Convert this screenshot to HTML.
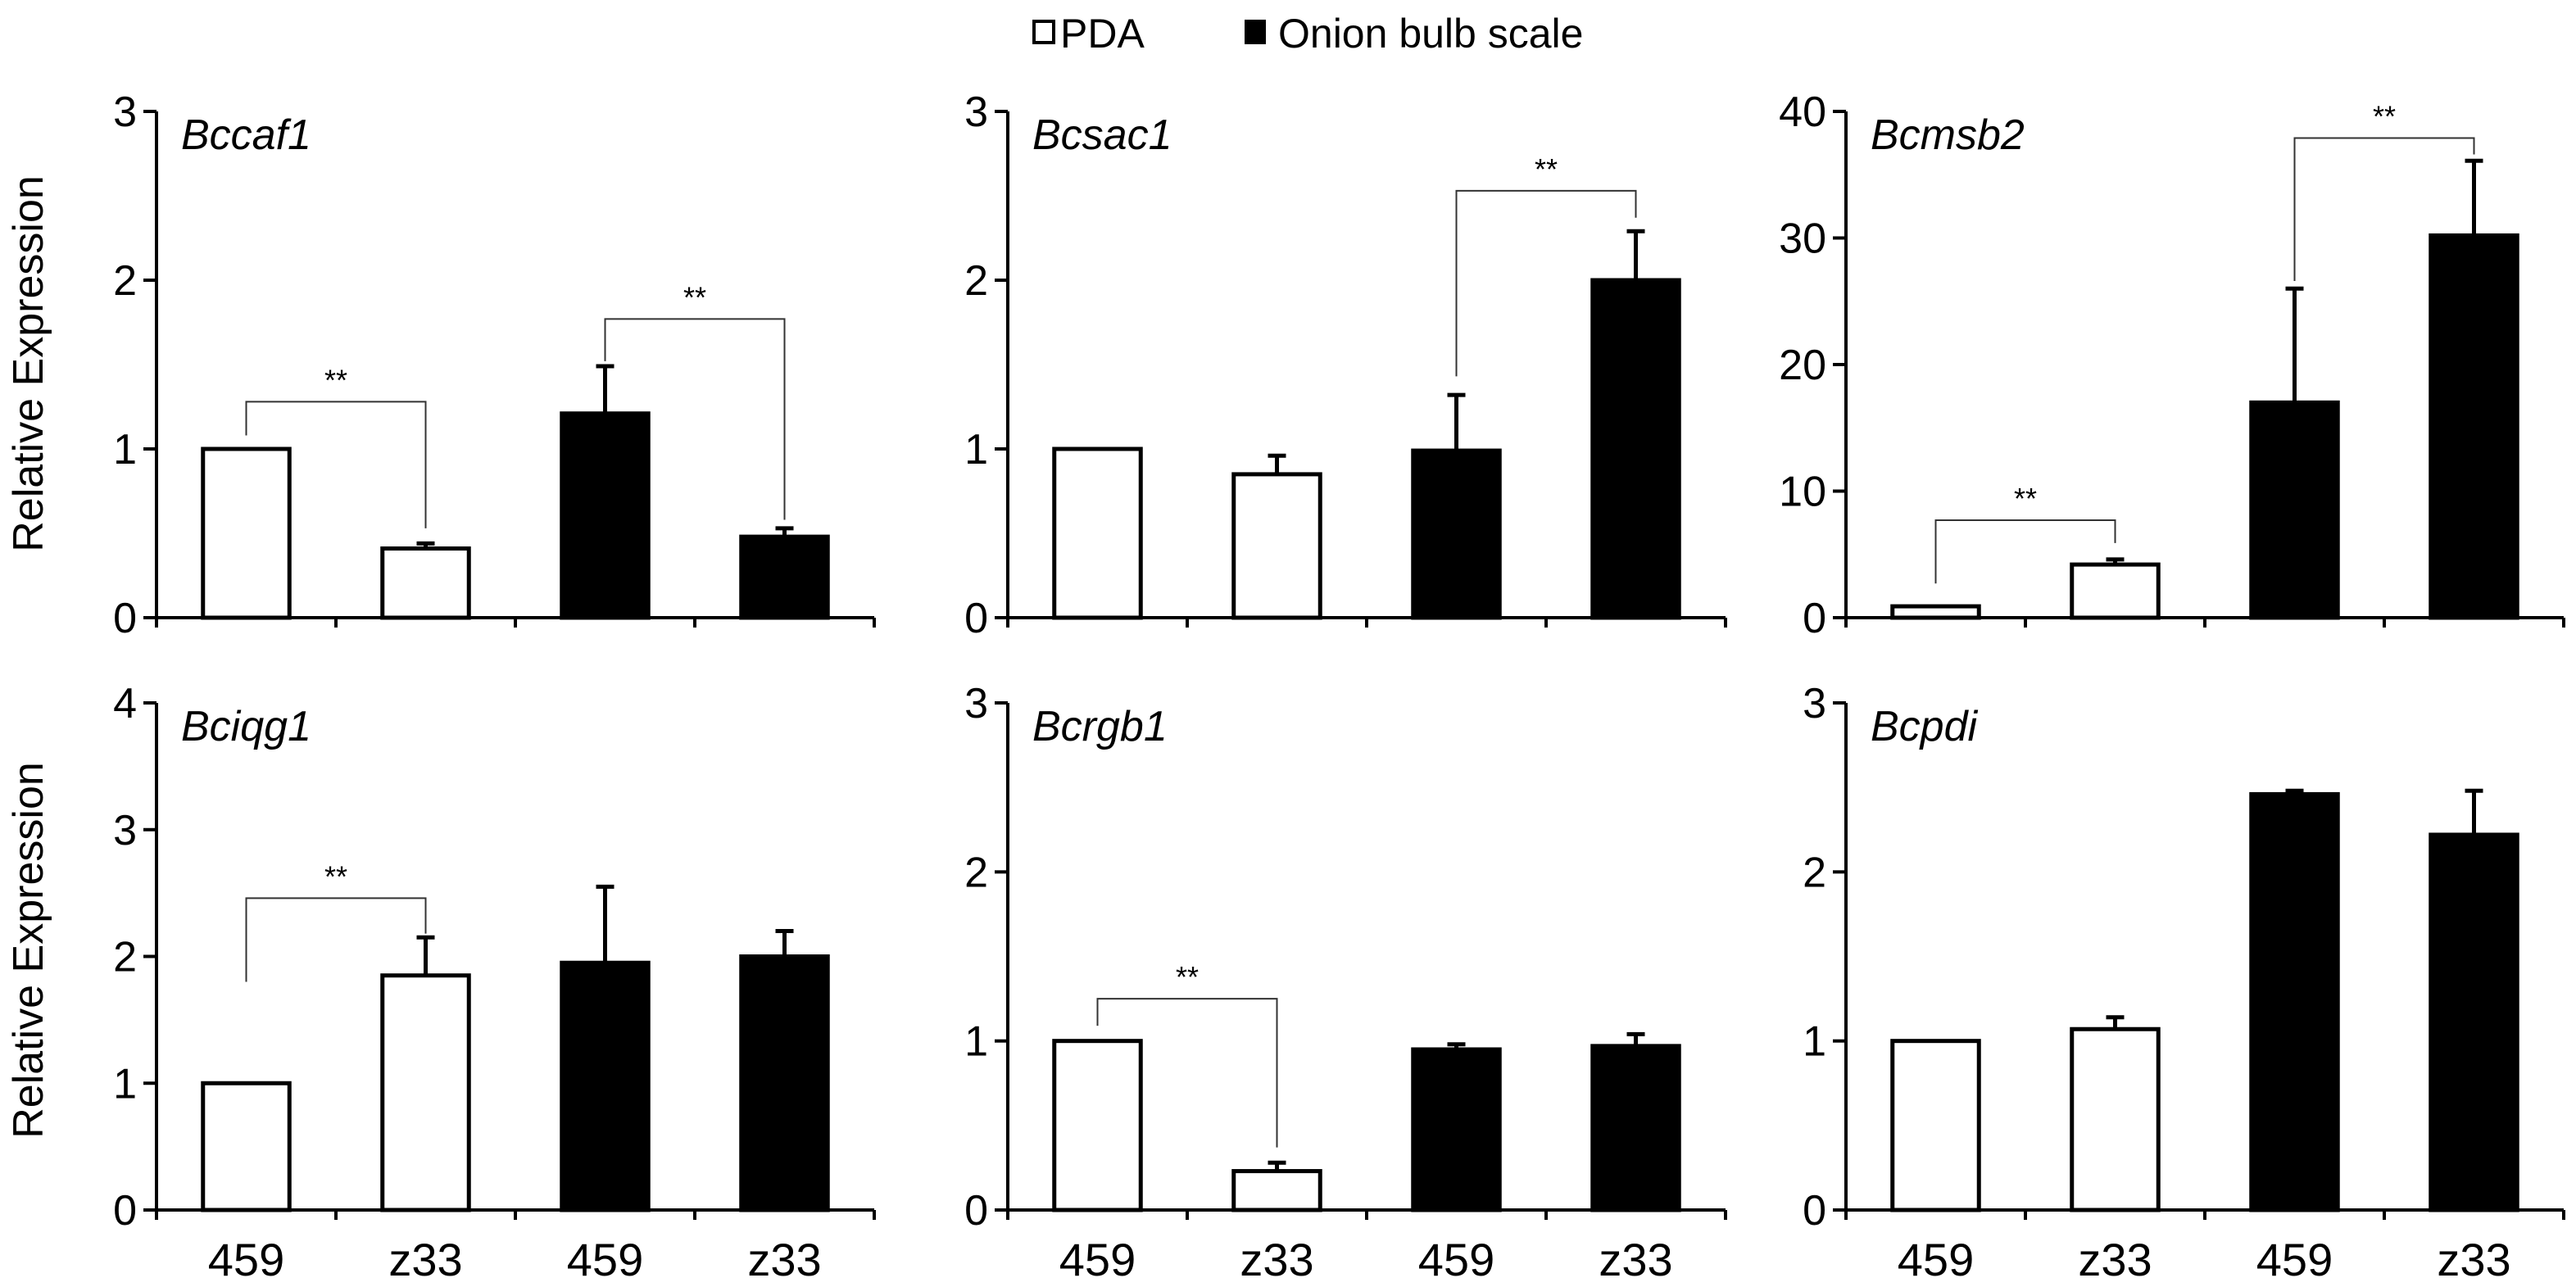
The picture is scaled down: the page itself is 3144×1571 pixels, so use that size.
<!DOCTYPE html>
<html><head><meta charset="utf-8">
<style>
html,body{margin:0;padding:0;background:#fff;}
svg{display:block;}
text{font-family:"Liberation Sans Narrow","Liberation Sans",Arial,sans-serif;fill:#000;}
</style></head>
<body>
<svg id="chart" width="3144" height="1571" viewBox="0 0 3144 1571" xmlns="http://www.w3.org/2000/svg">
<g>
  <rect x="1262" y="26" width="24" height="26" fill="#fff" stroke="#000" stroke-width="4"/>
  <text x="1294" y="58" font-size="50">PDA</text>
  <rect x="1519" y="24" width="26" height="30" fill="#000"/>
  <text x="1560" y="58" font-size="50">Onion bulb scale</text>
</g>
<text transform="translate(52,444) rotate(-90)" text-anchor="middle" font-size="52" font-family="Liberation Sans, sans-serif">Relative Expression</text>
<text transform="translate(52,1160) rotate(-90)" text-anchor="middle" font-size="52" font-family="Liberation Sans, sans-serif">Relative Expression</text>
</svg>
<script>
const genes = ["Bccaf1","Bcsac1","Bcmsb2","Bciqg1","Bcrgb1","Bcpdi"];
const categories = ["459","z33","459","z33"];
const fills = ["#fff","#fff","#000","#000"];
const yMaxes = [3,3,40,4,3,3];
const yStepVals = [1,1,10,1,1,1];
const values = [
  [1.0,0.41,1.21,0.48],
  [1.0,0.85,0.99,2.0],
  [0.9,4.2,17,30.2],
  [1.0,1.85,1.95,2.0],
  [1.0,0.23,0.95,0.97],
  [1.0,1.07,2.46,2.22]
];
const errors = [
  [0,0.03,0.28,0.05],
  [0,0.11,0.33,0.29],
  [0,0.4,9,5.9],
  [0,0.3,0.6,0.2],
  [0,0.05,0.03,0.07],
  [0,0.07,0.02,0.26]
];
// [panel, barA, barB, level, leftBottom, rightBottom]
const brackets = [
  [0,0,1,1.28,1.08,0.53],
  [0,2,3,1.77,1.52,0.58],
  [1,2,3,2.53,1.43,2.37],
  [2,0,1,7.7,2.7,5.9],
  [2,2,3,37.9,26.6,36.6],
  [3,0,1,2.46,1.8,2.18],
  [4,0,1,1.25,1.09,0.37]
];
const NS="http://www.w3.org/2000/svg";
const svg=document.getElementById('chart');
const axX=[191,1230,2253], axTop=[136,858], axBot=[754,1477], axW=876;
function mk(tag,attrs,parent){const e=document.createElementNS(NS,tag);for(const k in attrs)e.setAttribute(k,attrs[k]);(parent||svg).appendChild(e);return e;}
const panels=[];
genes.forEach((g,p)=>{
  const x0=axX[p%3], top=axTop[Math.floor(p/3)], bot=axBot[Math.floor(p/3)];
  const yMax=yMaxes[p];
  const ys=v=>bot-(v/yMax)*(bot-top);
  const band=axW/categories.length;
  const xc=i=>x0+band*(i+0.5);
  const grp=mk('g',{});
  
  
  panels.push({ys,xc});
  // bars
  values[p].forEach((v,i)=>{
    const bw=band*0.5-4;
    const r=mk('rect',{x:xc(i)-bw/2,y:ys(v),width:bw,height:bot-ys(v),fill:fills[i],stroke:'#000','stroke-width':5},grp);
    
    
    const e=errors[p][i];
    if(e>0){
      const eb=mk('path',{d:`M${xc(i)},${ys(v)} V${ys(v+e)} M${xc(i)-11},${ys(v+e)} H${xc(i)+11}`,stroke:'#000','stroke-width':5,fill:'none'},grp);
      
      
    }
  });
  // y axis
  const ya=mk('path',{d:`M${x0},${top} V${bot}`,stroke:'#000','stroke-width':4},grp);
  
  
  for(let t=0;t<=yMax;t+=yStepVals[p]){
    mk('path',{d:`M${x0-16},${ys(t)} H${x0}`,stroke:'#000','stroke-width':4},grp);
    const tl=mk('text',{x:x0-24,y:ys(t)+18,'text-anchor':'end','font-size':52},grp);
    tl.textContent=t;
    
    
  }
  // x axis
  const xa=mk('path',{d:`M${x0-16},${bot} H${x0+axW}`,stroke:'#000','stroke-width':4},grp);
  
  
  for(let i=0;i<=categories.length;i++){
    mk('path',{d:`M${x0+band*i},${bot} V${bot+12}`,stroke:'#000','stroke-width':4},grp);
  }
  if(p>=3){
    categories.forEach((c,i)=>{
      const cl=mk('text',{x:xc(i),y:1557,'text-anchor':'middle','font-size':56},grp);
      cl.textContent=c;
      
      
    });
  }
  const tt=mk('text',{x:x0+30,y:top+46,'font-size':52,'font-style':'italic'},grp);
  tt.textContent=g;
  
  
});
brackets.forEach(b=>{
  const [p,a,c,lv,lb,rb]=b;
  const P=panels[p];
  const br=mk('path',{d:`M${P.xc(a)},${P.ys(lb)} V${P.ys(lv)} H${P.xc(c)} V${P.ys(rb)}`,stroke:'#333','stroke-width':2,fill:'none'});
  
  
  const st=mk('text',{x:(P.xc(a)+P.xc(c))/2,y:P.ys(lv)-14,'text-anchor':'middle','font-size':36});
  st.textContent='**';
  
  
});
</script>
</body></html>
